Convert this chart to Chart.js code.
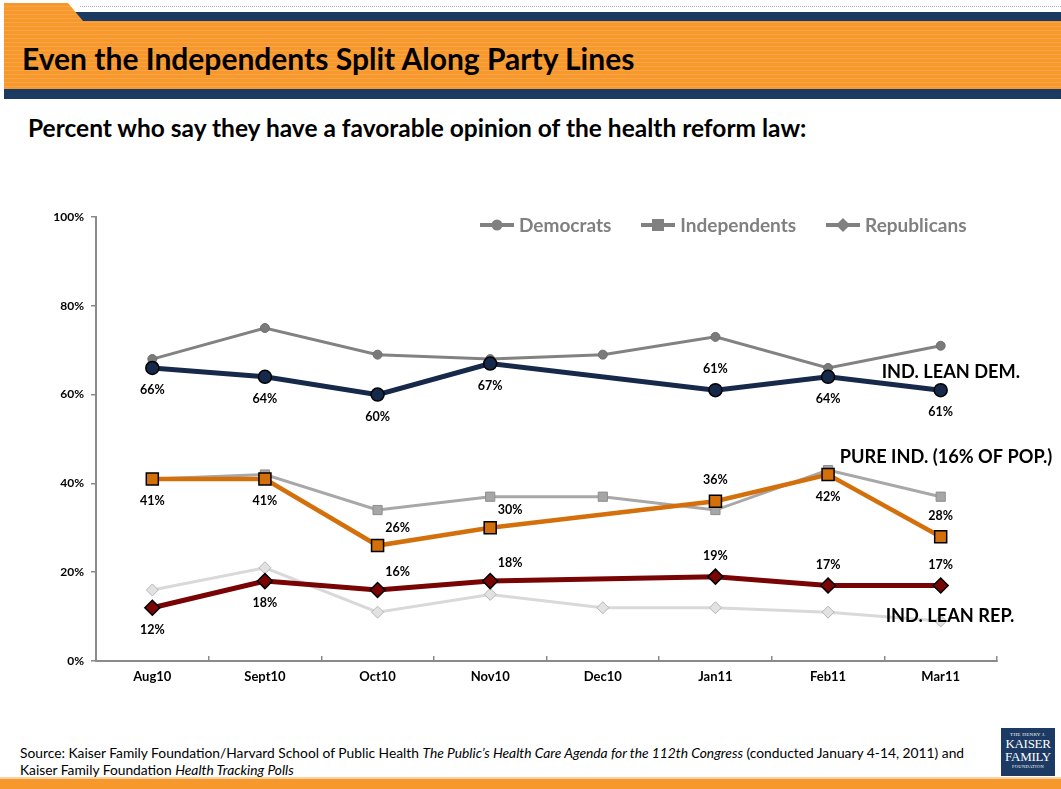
<!DOCTYPE html>
<html>
<head>
<meta charset="utf-8">
<title>Even the Independents Split Along Party Lines</title>
<script src="https://cdn.jsdelivr.net/npm/chart.js@4.4.0/dist/chart.umd.min.js"></script>
<style>
  html, body { margin: 0; padding: 0; background: #fff; }
  body { width: 1061px; height: 789px; position: relative; overflow: hidden; font-family: Lato, "Open Sans", sans-serif; }
  .dots { position: absolute; left: 80px; right: 0; top: 6px; border-top: 1px dotted #aab3bf; }
  .navy-strip { position: absolute; left: 70px; right: 0; top: 12px; height: 10px; background: #1a3a62; }
  .banner {
    position: absolute; left: 4px; right: 0; top: 3px; height: 86px;
    clip-path: polygon(0 0, 64px 0, 79px 18px, 100% 18px, 100% 100%, 0 100%);
    background: repeating-linear-gradient(to bottom, #f7982c 0, #f7982c 3px, #f9a546 3px, #f9a546 4px);
  }
  .banner h1 { position: absolute; left: 18px; top: 40px; margin: 0; font-size: 30px; line-height: 1; font-weight: 700; color: #000; white-space: nowrap; }
  .navy-bar { position: absolute; left: 4px; right: 0; top: 89px; height: 10px; background: #1a3a62; }
  .subtitle { position: absolute; left: 28px; top: 116px; margin: 0; font-size: 24.5px; line-height: 1; font-weight: 700; color: #000; white-space: nowrap; }
  .chart-box { position: absolute; left: 0; top: 150px; width: 1061px; height: 560px; }
  .legend { position: absolute; left: 480px; top: 213px; display: flex; gap: 30px; }
  .legend span { display: flex; align-items: center; font-size: 19px; font-weight: 700; color: #808080; line-height: 24px; }
  .legend canvas { margin-right: 5px; }
  .source { position: absolute; left: 20px; top: 744px; font-size: 13.8px; line-height: 17px; color: #000; white-space: nowrap; }
  .logo {
    position: absolute; left: 1001px; top: 728px; width: 54px; height: 48px; background: #1c3a63;
    color: #fff; font-family: "Liberation Serif", "DejaVu Serif", serif; text-align: center; line-height: 1;
  }
  .logo .small { font-size: 5px; padding-top: 4px; letter-spacing: 0.3px; }
  .logo .big { font-size: 13px; letter-spacing: -0.3px; }
  .logo .tiny { font-size: 4.5px; padding-top: 2px; letter-spacing: 0.3px; }
  .foot-line { position: absolute; left: 0; right: 0; top: 777px; height: 2px; background: #fbd3a3; }
  .foot-bar { position: absolute; left: 0; right: 0; top: 779px; height: 10px; background: #f7982c; }
</style>
</head>
<body>
<div class="dots"></div>
<div class="navy-strip"></div>
<div class="banner"><h1>Even the Independents Split Along Party Lines</h1></div>
<div class="navy-bar"></div>
<p class="subtitle">Percent who say they have a favorable opinion of the health reform law:</p>

<div class="chart-box"><canvas id="chart"></canvas></div>
<div class="legend" id="legend"></div>

<div class="source">
  Source: Kaiser Family Foundation/Harvard School of Public Health <i>The Public’s Health Care Agenda for the 112th Congress</i> (conducted January 4-14, 2011) and<br>
  Kaiser Family Foundation <i>Health Tracking Polls</i>
</div>
<div class="logo">
  <div class="small">THE HENRY J.</div>
  <div class="big">KAISER</div>
  <div class="big">FAMILY</div>
  <div class="tiny">FOUNDATION</div>
</div>
<div class="foot-line"></div>
<div class="foot-bar"></div>

<script>
// categories and tick values
const months = ['Aug10', 'Sept10', 'Oct10', 'Nov10', 'Dec10', 'Jan11', 'Feb11', 'Mar11'];
const yTicks = [0, 20, 40, 60, 80, 100];

// party totals (grey background lines)
const democrats    = [68, 75, 69, 68, 69, 73, 66, 71];
const independents = [41, 42, 34, 37, 37, 34, 43, 37];
const republicans  = [16, 21, 11, 15, 12, 12, 11, 9];

// independents split by leaning (no Dec10 poll)
const leanDem  = [66, 64, 60, 67, null, 61, 64, 61];
const pureInd  = [41, 41, 26, 30, null, 36, 42, 28];
const leanRep  = [12, 18, 16, 18, null, 19, 17, 17];

// where each value label sits: b = below, a = above, r = above right
const leanDemLabelAt = ['b', 'b', 'b', 'b', null, 'a', 'b', 'b'];
const pureIndLabelAt = ['b', 'b', 'r', 'r', null, 'a', 'b', 'a'];
const leanRepLabelAt = ['b', 'b', 'r', 'r', null, 'a', 'a', 'a'];

const legendNames = ['Democrats', 'Independents', 'Republicans'];
const lineNames = ['IND. LEAN DEM.', 'PURE IND. (16% OF POP.)', 'IND. LEAN REP.'];

const FONT = 'Lato, "Open Sans", sans-serif';

/**
 * Small legend icon: a grey line with the series marker on it
 */
function legendIcon(style) {
    const c = document.createElement('canvas');
    c.width = 34;
    c.height = 16;
    const g = c.getContext('2d');
    g.fillStyle = '#808080';
    g.fillRect(0, 6, 34, 4);
    g.beginPath();
    if (style === 'circle') {
        g.arc(17, 8, 5.5, 0, Math.PI * 2);
    } else if (style === 'rect') {
        g.rect(11, 2, 12, 12);
    } else {
        g.moveTo(17, 1); g.lineTo(24, 8); g.lineTo(17, 15); g.lineTo(10, 8); g.closePath();
    }
    g.fill();
    return c;
}

function buildLegend() {
    const box = document.getElementById('legend');
    const styles = ['circle', 'rect', 'diamond'];
    legendNames.forEach((name, i) => {
        const item = document.createElement('span');
        item.appendChild(legendIcon(styles[i]));
        item.appendChild(document.createTextNode(name));
        box.appendChild(item);
    });
}

const labelledSeries = [
    { values: leanDem, at: leanDemLabelAt },
    { values: pureInd, at: pureIndLabelAt },
    { values: leanRep, at: leanRepLabelAt },
];

// text next to the right end of each highlighted line
const lineTags = [
    { text: lineNames[0], y: 65, dx: -59 },
    { text: lineNames[1], y: 46, dx: -101 },
    { text: lineNames[2], y: 10, dx: -55 },
];

const labelPlugin = {
    id: 'valueLabels',
    afterDatasetsDraw(chart) {
        const ctx = chart.ctx;
        ctx.save();
        ctx.fillStyle = '#000';
        ctx.textBaseline = 'middle';

        ctx.font = 'bold 12.5px ' + FONT;
        ctx.textAlign = 'center';
        labelledSeries.forEach((s, i) => {
            const meta = chart.getDatasetMeta(i);
            meta.data.forEach((pt, j) => {
                const v = s.values[j];
                if (v === null) return;
                let dx = 0, dy = 22;
                if (s.at[j] === 'a') dy = -21;
                if (s.at[j] === 'r') { dx = 20; dy = -18; }
                ctx.fillText(v + '%', pt.x + dx, pt.y + dy);
            });
        });

        ctx.font = 'bold 18.2px ' + FONT;
        ctx.textAlign = 'left';
        const xEnd = chart.scales.x.getPixelForValue(months.length - 1);
        lineTags.forEach(t => {
            ctx.fillText(t.text, xEnd + t.dx, chart.scales.y.getPixelForValue(t.y));
        });
        ctx.restore();
    },
};

function renderChart() {
    const ctx = document.getElementById('chart').getContext('2d');

    const datasets = [
        {
            label: lineNames[0],
            data: leanDem,
            borderColor: '#17294a',
            backgroundColor: '#17294a',
            borderWidth: 5,
            pointStyle: 'circle',
            pointRadius: 6.5,
            pointBorderColor: '#000',
            pointBorderWidth: 1.5,
            spanGaps: true,
        },
        {
            label: lineNames[1],
            data: pureInd,
            borderColor: '#d4700c',
            backgroundColor: '#d4700c',
            borderWidth: 4.5,
            pointStyle: 'rect',
            pointRadius: 8.5,
            pointBorderColor: '#000',
            pointBorderWidth: 1.5,
            spanGaps: true,
        },
        {
            label: lineNames[2],
            data: leanRep,
            borderColor: '#780404',
            backgroundColor: '#780404',
            borderWidth: 5,
            pointStyle: 'rectRot',
            pointRadius: 7.5,
            pointBorderColor: '#000',
            pointBorderWidth: 1.5,
            spanGaps: true,
        },
        {
            label: legendNames[0],
            data: democrats,
            borderColor: '#828282',
            backgroundColor: '#7a7a7a',
            borderWidth: 3,
            pointStyle: 'circle',
            pointRadius: 4.5,
            pointBorderColor: '#6e6e6e',
            pointBorderWidth: 1,
        },
        {
            label: legendNames[1],
            data: independents,
            borderColor: '#a8a8a8',
            backgroundColor: '#a6a6a6',
            borderWidth: 3,
            pointStyle: 'rect',
            pointRadius: 6.5,
            pointBorderColor: '#8f8f8f',
            pointBorderWidth: 1,
        },
        {
            label: legendNames[2],
            data: republicans,
            borderColor: '#d9d9d9',
            backgroundColor: '#e2e2e2',
            borderWidth: 3,
            pointStyle: 'rectRot',
            pointRadius: 6,
            pointBorderColor: '#b5b5b5',
            pointBorderWidth: 1,
        },
    ];

    return new Chart(ctx, {
        type: 'line',
        data: { labels: months, datasets: datasets },
        options: {
            responsive: true,
            maintainAspectRatio: false,
            animation: false,
            layout: { padding: { top: 67, right: 64, bottom: 19, left: 0 } },
            elements: { line: { tension: 0 } },
            plugins: {
                legend: { display: false },
                tooltip: { enabled: false },
            },
            scales: {
                x: {
                    offset: true,
                    border: { color: '#8a8a8a', width: 2 },
                    grid: { offset: true, drawOnChartArea: false, tickLength: -5, color: '#8a8a8a', lineWidth: 1.5 },
                    ticks: { padding: 13, color: '#000', font: { family: FONT, size: 13, weight: 'bold' }, maxRotation: 0 },
                    afterFit(scale) { scale.height = 30; },
                },
                y: {
                    min: 0,
                    max: 100,
                    afterBuildTicks(scale) { scale.ticks = yTicks.map(v => ({ value: v })); },
                    border: { color: '#8a8a8a', width: 2 },
                    grid: { drawOnChartArea: false, tickLength: 5, color: '#8a8a8a', lineWidth: 1.5 },
                    ticks: {
                        padding: 7,
                        color: '#000',
                        font: { family: FONT, size: 12, weight: 'bold' },
                        callback: v => v + '%',
                    },
                    afterFit(scale) { scale.width = 96; },
                },
            },
        },
        plugins: [labelPlugin],
    });
}

buildLegend();
renderChart();
</script>
</body>
</html>
